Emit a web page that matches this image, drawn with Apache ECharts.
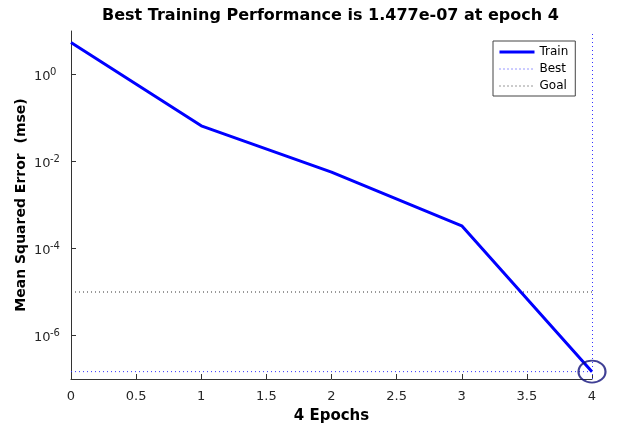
<!DOCTYPE html>
<html>
<head>
<meta charset="utf-8">
<script src="https://cdn.jsdelivr.net/npm/echarts@6/dist/echarts.min.js"></script>
<style>
html,body{margin:0;padding:0;background:#fff;}
#chart{width:634px;height:429px;}
</style>
</head>
<body>
<div id="chart"></div>
<script>
// ---- data ----
const epochs = [0, 1, 2, 3, 4];
const trainMse = [5.44, 0.0662, 0.00568, 3.33e-4, 1.477e-7];
const bestEpoch = 4;
const bestMse = 1.477e-7;
const goalMse = 1e-5;
const xTicks = [0, 0.5, 1, 1.5, 2, 2.5, 3, 3.5, 4];
const yTickValues = [1e-6, 1e-4, 1e-2, 1];
const yMin = 1e-7;
const yMax = 10;
const titleText = 'Best Training Performance is 1.477e-07 at epoch 4';
const xName = '4 Epochs';
const yName = 'Mean Squared Error  (mse)';

const axisColor = '#333333';
const textColor = '#262626';

const chart = echarts.init(document.getElementById('chart'), null, {renderer: 'canvas'});

const option = {
  backgroundColor: '#ffffff',
  animation: false,
  title: {
    text: titleText,
    left: 102,
    top: 8,
    padding: 0,
    textStyle: {fontFamily: 'DejaVu Sans', fontWeight: 'bold', fontSize: 16, color: '#000'}
  },
  legend: {
    orient: 'vertical',
    left: 493,
    top: 41,
    padding: [5, 7, 4, 5],
    itemWidth: 35,
    itemHeight: 12,
    itemGap: 5,
    backgroundColor: '#fff',
    borderColor: '#444',
    borderWidth: 1,
    borderRadius: 0,
    itemStyle: {opacity: 0},
    lineStyle: {width: 'inherit'},
    data: ['Train', 'Best', 'Goal'],
    textStyle: {fontFamily: 'DejaVu Sans', fontSize: 12, color: '#000', padding: [0, 0, 0, 0]}
  },
  grid: {left: 71, right: 42, top: 31, bottom: 50, containLabel: false},
  xAxis: {
    type: 'value',
    min: xTicks[0],
    max: xTicks[xTicks.length - 1],
    interval: 0.5,
    name: xName,
    nameLocation: 'middle',
    nameGap: 30,
    nameMoveOverlap: false,
    nameTextStyle: {fontFamily: 'DejaVu Sans', fontWeight: 'bold', fontSize: 15, color: '#000'},
    axisLine: {show: true, lineStyle: {color: axisColor, width: 1}},
    axisTick: {show: true, inside: true, length: 5, lineStyle: {color: axisColor}},
    axisLabel: {margin: 11, fontFamily: 'DejaVu Sans', fontSize: 13, color: textColor},
    splitLine: {show: false}
  },
  yAxis: {
    type: 'log',
    logBase: 10,
    min: yMin,
    max: yMax,
    name: yName,
    nameLocation: 'middle',
    nameGap: 43,
    nameMoveOverlap: false,
    nameTextStyle: {fontFamily: 'DejaVu Sans', fontWeight: 'bold', fontSize: 14, color: '#000'},
    axisLine: {show: true, lineStyle: {color: axisColor, width: 1}},
    axisTick: {show: true, inside: true, length: 5, lineStyle: {color: axisColor}, customValues: yTickValues},
    axisLabel: {
      margin: 7,
      customValues: yTickValues,
      color: textColor,
      formatter: function (v) {
        const e = Math.round(Math.log10(v));
        return '{b|10}{s|' + e + '}';
      },
      rich: {
        b: {fontFamily: 'DejaVu Sans', fontSize: 13, color: textColor, lineHeight: 14, padding: [5, 0, 0, 0], width: 16, align: 'left'},
        s: {fontFamily: 'DejaVu Sans', fontSize: 10, color: textColor, lineHeight: 13, verticalAlign: 'top', width: 14, align: 'left'}
      }
    },
    splitLine: {show: false},
    minorTick: {show: false}
  },
  series: [
    {
      name: 'Goal',
      type: 'line',
      symbol: 'none',
      data: [[xTicks[0], goalMse], [xTicks[xTicks.length - 1], goalMse]],
      lineStyle: {color: '#333333', width: 1, type: [1, 3]},
      itemStyle: {color: '#333333'},
      z: 2
    },
    {
      name: 'Best',
      type: 'line',
      symbol: 'none',
      data: [[xTicks[0], bestMse], [bestEpoch, bestMse]],
      lineStyle: {color: '#3333ff', width: 1, type: [1, 3]},
      itemStyle: {color: '#3333ff'},
      markLine: {
        silent: true,
        symbol: 'none',
        label: {show: false},
        lineStyle: {color: '#3333ff', width: 1, type: [1, 3]},
        data: [{xAxis: bestEpoch}]
      },
      z: 2
    },
    {
      name: 'Train',
      type: 'line',
      symbol: 'none',
      data: epochs.map((e, i) => [e, trainMse[i]]),
      lineStyle: {color: '#0000ff', width: 3},
      itemStyle: {color: '#0000ff'},
      z: 3
    },
    {
      name: 'bestPoint',
      type: 'scatter',
      data: [[bestEpoch, bestMse]],
      symbol: 'circle',
      symbolSize: [27, 22],
      itemStyle: {color: 'rgba(0,0,0,0)', borderColor: '#10107a', borderWidth: 2},
      z: 4
    }
  ]
};
chart.setOption(option);
</script>
</body>
</html>
